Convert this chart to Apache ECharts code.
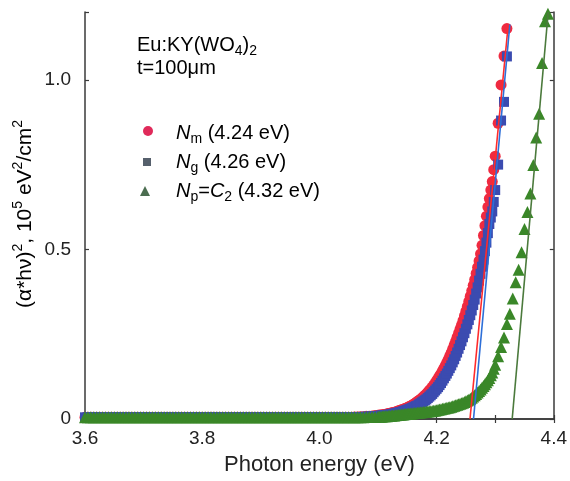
<!DOCTYPE html>
<html>
<head>
<meta charset="utf-8">
<script src="https://cdn.jsdelivr.net/npm/echarts@6/dist/echarts.min.js"></script>
<style>
  html, body { margin: 0; padding: 0; background: #fff; }
  #chart { width: 570px; height: 481px; }
</style>
</head>
<body>
<div id="chart"></div>
<script>
// photon energy grid (eV), shared by the three curves
const energy = [
  3.600, 3.605, 3.610, 3.615, 3.620, 3.625, 3.630, 3.635, 3.640, 3.645,
  3.650, 3.655, 3.660, 3.665, 3.670, 3.675, 3.680, 3.685, 3.690, 3.695,
  3.700, 3.705, 3.710, 3.715, 3.720, 3.725, 3.730, 3.735, 3.740, 3.745,
  3.750, 3.755, 3.760, 3.765, 3.770, 3.775, 3.780, 3.785, 3.790, 3.795,
  3.800, 3.805, 3.810, 3.815, 3.820, 3.825, 3.830, 3.835, 3.840, 3.845,
  3.850, 3.855, 3.860, 3.865, 3.870, 3.875, 3.880, 3.885, 3.890, 3.895,
  3.900, 3.905, 3.910, 3.915, 3.920, 3.925, 3.930, 3.935, 3.940, 3.945,
  3.950, 3.955, 3.960, 3.965, 3.970, 3.975, 3.980, 3.985, 3.990, 3.995,
  4.000, 4.005, 4.010, 4.015, 4.020, 4.025, 4.030, 4.035, 4.040, 4.045,
  4.050, 4.055, 4.060, 4.065, 4.070, 4.075, 4.080, 4.085, 4.090, 4.095,
  4.1000, 4.1025, 4.1050, 4.1075, 4.1100, 4.1125, 4.1150, 4.1175, 4.1200, 4.1225,
  4.1250, 4.1275, 4.1300, 4.1325, 4.1350, 4.1375, 4.1400, 4.1425, 4.1450, 4.1475,
  4.1500, 4.1525, 4.1550, 4.1575, 4.1600, 4.1625, 4.1650, 4.1675, 4.1700, 4.1725,
  4.1750, 4.1775, 4.1800, 4.1825, 4.1850, 4.1875, 4.1900, 4.1925, 4.1950, 4.1975,
  4.2000, 4.2025, 4.2050, 4.2075, 4.2100, 4.2125, 4.2150, 4.2175, 4.2200, 4.2225,
  4.2250, 4.2275, 4.2300, 4.2325, 4.2350, 4.2375, 4.2400, 4.2425, 4.2450, 4.2475,
  4.2500, 4.2525, 4.2550, 4.2575, 4.2600, 4.2625, 4.2650, 4.2675, 4.2700, 4.2725,
  4.2750, 4.2775, 4.2800, 4.2825, 4.2850, 4.2875, 4.2900, 4.2925, 4.2950, 4.2975,
  4.300, 4.305, 4.310, 4.315, 4.320, 4.325, 4.330, 4.335, 4.340, 4.345,
  4.350, 4.355, 4.360, 4.365, 4.370, 4.375, 4.380, 4.385, 4.390
]

// (alpha*hv)^2, 10^5 eV^2/cm^2
const nmValues = [
  0.005, 0.005, 0.005, 0.005, 0.005, 0.005, 0.005, 0.005, 0.005, 0.005,
  0.005, 0.005, 0.005, 0.005, 0.005, 0.005, 0.005, 0.005, 0.005, 0.005,
  0.005, 0.005, 0.005, 0.005, 0.005, 0.005, 0.005, 0.005, 0.005, 0.005,
  0.005, 0.005, 0.005, 0.005, 0.005, 0.005, 0.005, 0.005, 0.005, 0.005,
  0.005, 0.005, 0.005, 0.005, 0.005, 0.005, 0.005, 0.005, 0.005, 0.005,
  0.005, 0.005, 0.005, 0.005, 0.005, 0.005, 0.005, 0.005, 0.005, 0.005,
  0.005, 0.005, 0.005, 0.005, 0.005, 0.005, 0.005, 0.005, 0.005, 0.005,
  0.005, 0.005, 0.005, 0.005, 0.005, 0.005, 0.005, 0.005, 0.005, 0.005,
  0.005, 0.005, 0.005, 0.005, 0.005, 0.005, 0.005, 0.005, 0.005, 0.005,
  0.005, 0.005, 0.006, 0.006, 0.007, 0.007, 0.008, 0.008, 0.009, 0.010,
  0.011, 0.0115, 0.012, 0.0125, 0.013, 0.014, 0.015, 0.016, 0.017, 0.018,
  0.019, 0.020, 0.021, 0.0225, 0.024, 0.0255, 0.027, 0.0285, 0.030, 0.032,
  0.034, 0.036, 0.038, 0.040, 0.043, 0.046, 0.049, 0.052, 0.055, 0.058,
  0.062, 0.066, 0.070, 0.074, 0.079, 0.084, 0.089, 0.094, 0.100, 0.106,
  0.113, 0.120, 0.127, 0.134, 0.142, 0.150, 0.158, 0.167, 0.176, 0.186,
  0.196, 0.207, 0.218, 0.229, 0.241, 0.253, 0.265, 0.277, 0.290, 0.304,
  0.318, 0.332, 0.347, 0.362, 0.378, 0.394, 0.411, 0.429, 0.447, 0.466,
  0.487, 0.512, 0.541, 0.570, 0.598, 0.625, 0.650, 0.675, 0.700, 0.735,
  0.775, 0.872, 0.985, 1.070, 1.151
]
const ngValues = [
  0.005, 0.005, 0.005, 0.005, 0.005, 0.005, 0.005, 0.005, 0.005, 0.005,
  0.005, 0.005, 0.005, 0.005, 0.005, 0.005, 0.005, 0.005, 0.005, 0.005,
  0.005, 0.005, 0.005, 0.005, 0.005, 0.005, 0.005, 0.005, 0.005, 0.005,
  0.005, 0.005, 0.005, 0.005, 0.005, 0.005, 0.005, 0.005, 0.005, 0.005,
  0.005, 0.005, 0.005, 0.005, 0.005, 0.005, 0.005, 0.005, 0.005, 0.005,
  0.005, 0.005, 0.005, 0.005, 0.005, 0.005, 0.005, 0.005, 0.005, 0.005,
  0.005, 0.005, 0.005, 0.005, 0.005, 0.005, 0.005, 0.005, 0.005, 0.005,
  0.005, 0.005, 0.005, 0.005, 0.005, 0.005, 0.005, 0.005, 0.005, 0.005,
  0.005, 0.005, 0.005, 0.005, 0.005, 0.005, 0.005, 0.005, 0.005, 0.005,
  0.005, 0.005, 0.005, 0.006, 0.006, 0.006, 0.007, 0.007, 0.008, 0.008,
  0.009, 0.0095, 0.010, 0.0105, 0.011, 0.0115, 0.012, 0.0125, 0.013, 0.014,
  0.015, 0.016, 0.017, 0.018, 0.019, 0.020, 0.021, 0.0225, 0.024, 0.0255,
  0.027, 0.0285, 0.030, 0.032, 0.034, 0.036, 0.038, 0.040, 0.043, 0.046,
  0.049, 0.052, 0.055, 0.058, 0.062, 0.066, 0.070, 0.074, 0.079, 0.084,
  0.089, 0.094, 0.100, 0.106, 0.113, 0.120, 0.127, 0.134, 0.142, 0.150,
  0.158, 0.167, 0.176, 0.186, 0.196, 0.207, 0.218, 0.229, 0.241, 0.253,
  0.266, 0.279, 0.292, 0.306, 0.320, 0.336, 0.352, 0.370, 0.388, 0.408,
  0.428, 0.449, 0.470, 0.495, 0.520, 0.548, 0.575, 0.594, 0.612, 0.640,
  0.675, 0.750, 0.880, 0.935, 1.069
]
const npValues = [
  0.005, 0.005, 0.005, 0.005, 0.005, 0.005, 0.005, 0.005, 0.005, 0.005,
  0.005, 0.005, 0.005, 0.005, 0.005, 0.005, 0.005, 0.005, 0.005, 0.005,
  0.005, 0.005, 0.005, 0.005, 0.005, 0.005, 0.005, 0.005, 0.005, 0.005,
  0.005, 0.005, 0.005, 0.005, 0.005, 0.005, 0.005, 0.005, 0.005, 0.005,
  0.005, 0.005, 0.005, 0.005, 0.005, 0.005, 0.005, 0.005, 0.005, 0.005,
  0.005, 0.005, 0.005, 0.005, 0.005, 0.005, 0.005, 0.005, 0.005, 0.005,
  0.005, 0.005, 0.005, 0.005, 0.005, 0.005, 0.005, 0.005, 0.005, 0.005,
  0.005, 0.005, 0.005, 0.005, 0.005, 0.005, 0.005, 0.005, 0.005, 0.005,
  0.005, 0.005, 0.005, 0.005, 0.005, 0.005, 0.005, 0.005, 0.005, 0.005,
  0.005, 0.005, 0.005, 0.005, 0.005, 0.005, 0.006, 0.006, 0.006, 0.006,
  0.007, 0.007, 0.007, 0.0075, 0.008, 0.008, 0.008, 0.0085, 0.009, 0.0095,
  0.010, 0.0105, 0.011, 0.0115, 0.012, 0.0125, 0.013, 0.0135, 0.014, 0.0145,
  0.015, 0.0155, 0.016, 0.0165, 0.017, 0.0175, 0.018, 0.0185, 0.019, 0.0195,
  0.020, 0.0205, 0.021, 0.0215, 0.022, 0.0225, 0.023, 0.0235, 0.024, 0.025,
  0.026, 0.027, 0.028, 0.029, 0.030, 0.031, 0.032, 0.033, 0.034, 0.035,
  0.036, 0.0375, 0.039, 0.0405, 0.042, 0.0435, 0.045, 0.0465, 0.048, 0.050,
  0.052, 0.0545, 0.057, 0.060, 0.063, 0.0665, 0.070, 0.074, 0.078, 0.0825,
  0.087, 0.092, 0.097, 0.1025, 0.108, 0.1145, 0.121, 0.129, 0.137, 0.148,
  0.160, 0.185, 0.212, 0.240, 0.280, 0.310, 0.355, 0.403, 0.440, 0.492,
  0.560, 0.610, 0.665, 0.749, 0.830, 0.900, 1.050, 1.173, 1.195
]

// linear fits (endpoints)
const fitNmX = [4.257, 4.322]
const fitNmY = [0, 1.158]
const fitNgX = [4.263, 4.325]
const fitNgY = [0, 1.163]
const fitNpX = [4.329, 4.3905]
const fitNpY = [0, 1.2]

const xTicks = ['3.6', '3.8', '4.0', '4.2', '4.4']
const yTicks = ['0', '0.5', '1.0']

const font = '"Liberation Sans", Arial, sans-serif'

function pairs(xs, ys) {
  return ys.map((y, i) => [xs[i], y])
}

const chart = echarts.init(document.getElementById('chart'))

const axisLine = { lineStyle: { color: '#3a3a3a', width: 1.5 } }
const tick = { inside: true, length: 4, lineStyle: { color: '#3a3a3a', width: 1.2 } }

const txt = { fontFamily: font, fontSize: 20, color: '#222', lineHeight: 26 }
const it = { fontFamily: font, fontSize: 20, color: '#222', fontStyle: 'italic', lineHeight: 26 }
const sub = { fontFamily: font, fontSize: 14, color: '#222', verticalAlign: 'bottom' }
const ytxt = { fontFamily: font, fontSize: 21, color: '#222', lineHeight: 28 }
const sup = { fontFamily: font, fontSize: 14, color: '#222', verticalAlign: 'top' }

chart.setOption({
  animation: false,
  grid: { left: 85, right: 14, top: 12, bottom: 62 },
  xAxis: [{
    type: 'value',
    min: 3.6,
    max: 4.4,
    interval: 0.1,
    position: 'bottom',
    axisLine,
    axisTick: tick,
    splitLine: { show: false },
    axisLabel: {
      fontFamily: font,
      fontSize: 19,
      color: '#222',
      margin: 10,
      formatter: v => {
        const s = v.toFixed(1)
        return xTicks.includes(s) ? s : ''
      }
    },
    name: 'Photon energy (eV)',
    nameLocation: 'middle',
    nameGap: 35,
    nameTextStyle: { fontFamily: font, fontSize: 22, color: '#222' }
  }, {
    type: 'value',
    min: 3.6,
    max: 4.4,
    interval: 0.1,
    position: 'top',
    axisLine,
    axisTick: tick,
    axisLabel: { show: false },
    splitLine: { show: false }
  }],
  yAxis: [{
    type: 'value',
    min: 0,
    max: 1.2,
    interval: 0.5,
    axisLine: { show: true, ...axisLine },
    axisTick: tick,
    splitLine: { show: false },
    axisLabel: {
      fontFamily: font,
      fontSize: 19,
      color: '#222',
      margin: 14,
      formatter: v => {
        const s = v === 0 ? '0' : v.toFixed(1)
        return yTicks.includes(s) ? s : ''
      }
    }
  }, {
    type: 'value',
    min: 0,
    max: 1.2,
    interval: 0.5,
    position: 'right',
    axisLine: { show: true, ...axisLine },
    axisTick: tick,
    axisLabel: { show: false },
    splitLine: { show: false }
  }],
  series: [{
    name: 'Nm',
    type: 'scatter',
    symbol: 'circle',
    symbolSize: 11,
    clip: false,
    itemStyle: { color: '#ef2a40', opacity: 1 },
    data: pairs(energy, nmValues)
  }, {
    name: 'Ng',
    type: 'scatter',
    symbol: 'rect',
    symbolSize: 10,
    clip: false,
    itemStyle: { color: '#3b4bb0', opacity: 1 },
    data: pairs(energy, ngValues)
  }, {
    name: 'Np',
    type: 'scatter',
    symbol: 'triangle',
    symbolSize: 12,
    clip: false,
    itemStyle: { color: '#3a8728', opacity: 1 },
    data: pairs(energy, npValues)
  }, {
    type: 'line',
    symbol: 'none',
    lineStyle: { color: '#ff2b2b', width: 1.6 },
    data: pairs(fitNmX, fitNmY)
  }, {
    type: 'line',
    symbol: 'none',
    lineStyle: { color: '#2d6fd8', width: 1.6 },
    data: pairs(fitNgX, fitNgY)
  }, {
    type: 'line',
    symbol: 'none',
    lineStyle: { color: '#4b7a3c', width: 1.6 },
    data: pairs(fitNpX, fitNpY)
  }],
  graphic: [
    {
      type: 'text', rotation: Math.PI / 2, x: 25, y: 214,
      style: {
        text: '{t|(\u03b1*h\u03bd)}{p|2}{t|, 10}{p|5}{t| eV}{p|2}{t|/cm}{p|2}',
        align: 'center', verticalAlign: 'middle',
        rich: { t: ytxt, p: sup }
      }
    },
    {
      type: 'text', x: 137, y: 45,
      style: {
        text: '{t|Eu:KY(WO}{s|4}{t|)}{s|2}',
        verticalAlign: 'middle',
        rich: { t: txt, s: sub }
      }
    },
    {
      type: 'text', x: 137, y: 68,
      style: {
        text: '{t|t=100\u03bcm}',
        verticalAlign: 'middle',
        rich: { t: txt }
      }
    },
    { type: 'circle', shape: { cx: 148, cy: 131, r: 5 }, style: { fill: '#e02a5a' } },
    { type: 'rect', shape: { x: 143, y: 158, width: 8, height: 8 }, style: { fill: '#56606c' } },
    { type: 'polygon', shape: { points: [[145, 186], [140, 196], [150, 196]] }, style: { fill: '#4b6d50' } },
    {
      type: 'text', x: 176, y: 133,
      style: {
        text: '{i|N}{s|m}{t| (4.24 eV)}',
        verticalAlign: 'middle',
        rich: { t: txt, i: it, s: sub }
      }
    },
    {
      type: 'text', x: 176, y: 162,
      style: {
        text: '{i|N}{s|g}{t| (4.26 eV)}',
        verticalAlign: 'middle',
        rich: { t: txt, i: it, s: sub }
      }
    },
    {
      type: 'text', x: 176, y: 191,
      style: {
        text: '{i|N}{s|p}{t|=}{i|C}{s|2}{t| (4.32 eV)}',
        verticalAlign: 'middle',
        rich: { t: txt, i: it, s: sub }
      }
    }
  ]
})
</script>
</body>
</html>
